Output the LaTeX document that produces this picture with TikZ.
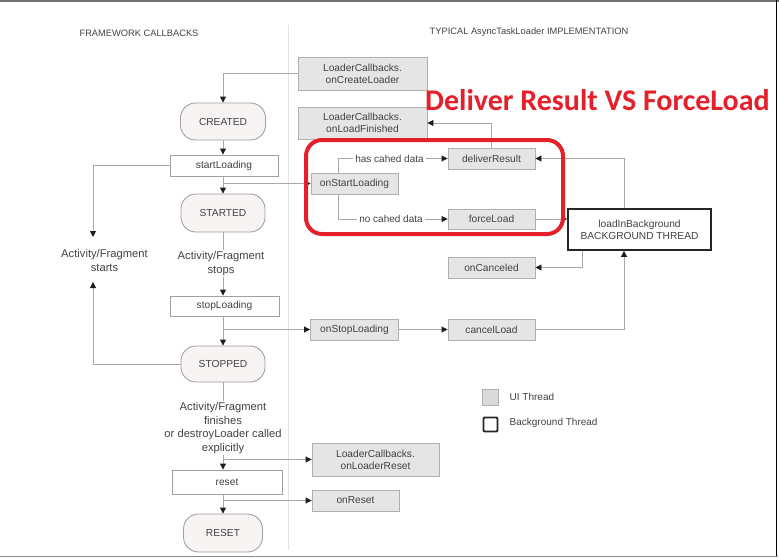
\documentclass[tikz,border=0pt]{standalone}
\usepackage{fontspec}
\setmainfont{Liberation Sans}
\newfontfamily\redfont{Carlito}
\usetikzlibrary{arrows.meta}
\definecolor{txt}{HTML}{424242}
\definecolor{lineclr}{HTML}{A8A8A8}
\definecolor{tipclr}{HTML}{1E1E1E}
\definecolor{uifill}{HTML}{E5E5E5}
\definecolor{uiline}{HTML}{B0B0B0}
\definecolor{fwline}{HTML}{A0A0A0}
\definecolor{statefill}{HTML}{F8F4F3}
\definecolor{divclr}{HTML}{E4E4E4}
\definecolor{redc}{HTML}{E5202B}
\definecolor{legfill}{HTML}{DADADA}
\definecolor{topclr}{HTML}{707070}
\definecolor{botclr}{HTML}{8A8A8A}
\tikzset{
 base/.style={font=\fontsize{10.2}{12}\selectfont, text=txt, align=center, inner sep=0pt, line width=0.9pt},
 uibox/.style={base, draw=uiline, fill=uifill},
 fwbox/.style={base, draw=fwline, fill=white},
 state/.style={base, draw=fwline, fill=statefill, rounded corners=15pt},
 bgbox/.style={base, draw=black!85, fill=white, line width=1.8pt},
 freetxt/.style={font=\fontsize{10}{13.3}\selectfont, text=txt, align=center, inner sep=1pt},
 bigtxt/.style={font=\fontsize{11.2}{13.4}\selectfont, text=txt, align=center, inner sep=1pt},
 conn/.style={draw=lineclr, line width=0.9pt},
 arr/.style={conn, -{Triangle[length=6pt,width=6pt,color=tipclr]}},
 hdr/.style={font=\fontsize{9.3}{11}\selectfont, text=txt, inner sep=0pt}
}
\begin{document}
\begin{tikzpicture}[x=1pt,y=-1pt]
\useasboundingbox (0,0) rectangle (779,557);
% outer frame
\coordinate (fTL) at (0,0.8);
\coordinate (fTR) at (779,0.8);
\coordinate (fRT) at (776.8,0);
\coordinate (fRB) at (776.8,556);
\coordinate (fBL) at (0,556.3);
\coordinate (fBR) at (777.5,556.3);
\draw[topclr, line width=1.6pt] (fTL) -- (fTR);
\draw[black, line width=1.3pt] (fRT) -- (fRB);
\draw[botclr, line width=1.3pt] (fBL) -- (fBR);
% headers and divider
\node[hdr] (hdrL) at (139,33) {FRAMEWORK CALLBACKS};
\node[hdr] (hdrR) at (529,32) {TYPICAL AsyncTaskLoader IMPLEMENTATION};
\coordinate (divT) at (288,25);
\coordinate (divB) at (288,550);
\draw[divclr, line width=0.9pt] (divT) -- (divB);
% left column
\node[state, minimum width=85pt, minimum height=37pt] (created) at (223,121.5) {CREATED};
\node[fwbox, minimum width=108pt, minimum height=21pt] (startL) at (224,165.5) {startLoading};
\node[state, minimum width=84pt, minimum height=38pt] (started) at (223,213) {STARTED};
\node[bigtxt] (stopsTxt) at (221,263.5) {Activity/Fragment\\stops};
\node[fwbox, minimum width=109pt, minimum height=20pt] (stopL) at (224.5,306) {stopLoading};
\node[state, minimum width=84pt, minimum height=36pt] (stopped) at (223,364) {STOPPED};
\node[bigtxt] (finTxt) at (223,428) {Activity/Fragment\\finishes\\or destroyLoader called\\explicitly};
\node[fwbox, minimum width=110pt, minimum height=24pt] (reset) at (227,482) {reset};
\node[state, minimum width=79pt, minimum height=38pt] (resetS) at (223,533) {RESET};
\node[bigtxt] (startsTxt) at (104.5,260.5) {Activity/Fragment\\starts};
\coordinate (startsTop) at (93,237);
\coordinate (startsBot) at (93,282);
% right column
\node[uibox, minimum width=129pt, minimum height=33pt] (onCreate) at (362.5,73.5) {LoaderCallbacks.\\onCreateLoader};
\node[uibox, minimum width=129pt, minimum height=32pt] (onLoadFin) at (362.5,123) {LoaderCallbacks.\\onLoadFinished};
\node[uibox, minimum width=87pt, minimum height=21pt] (onStart) at (354.5,183.5) {onStartLoading};
\node[uibox, minimum width=87pt, minimum height=21pt] (deliver) at (491.5,158.5) {deliverResult};
\node[uibox, minimum width=87pt, minimum height=20pt] (force) at (491.5,219) {forceLoad};
\node[bgbox, minimum width=143pt, minimum height=41pt] (loadBg) at (639.5,229.5) {loadInBackground\\BACKGROUND THREAD};
\node[uibox, minimum width=87pt, minimum height=21pt] (onCanceled) at (491.5,267.5) {onCanceled};
\node[uibox, minimum width=88pt, minimum height=21pt] (onStop) at (354.5,329.5) {onStopLoading};
\node[uibox, minimum width=87pt, minimum height=21pt] (cancel) at (491.5,329.5) {cancelLoad};
\node[uibox, minimum width=127pt, minimum height=33pt] (onLReset) at (375.5,459.5) {LoaderCallbacks.\\onLoaderReset};
\node[uibox, minimum width=87pt, minimum height=21pt] (onReset) at (355.5,500.5) {onReset};
\node[freetxt, fill=white, inner sep=2pt] (hasTxt) at (389.5,158.5) {has cahed data};
\node[freetxt, fill=white, inner sep=2pt] (noTxt) at (391,219) {no cahed data};
% legend
\node[draw=uiline, fill=legfill, line width=0.8pt, minimum size=16pt, inner sep=0pt] (legUI) at (490.5,397) {};
\node[draw=black!85, fill=white, line width=1.8pt, minimum size=14pt, inner sep=0pt, rounded corners=1pt] (legBG) at (490.5,424.5) {};
\node[freetxt, anchor=west] (legUItxt) at (508.5,397) {UI Thread};
\node[freetxt, anchor=west] (legBGtxt) at (508.5,423) {Background Thread};
% connectors, left
\draw[arr] (onCreate.west) -| (created.north);
\draw[arr] (created.south) -- (created.south |- startL.north);
\draw[arr] (started.north |- startL.south) -- (started.north);
\draw[arr] (started.north |- onStart.west) -- (onStart.west);
\draw[arr] (startL.west) -| (startsTop);
\draw[conn] (started.south) -- (started.south |- stopsTxt.north);
\draw[arr] (stopped.north |- stopsTxt.south) -- (stopped.north |- stopL.north);
\draw[arr] (stopped.north |- stopL.south) -- (stopped.north);
\draw[arr] (stopped.north |- onStop.west) -- (onStop.west);
\draw[arr] (stopped.west) -| (startsBot);
\draw[conn] (stopped.south) -- (stopped.south |- finTxt.north);
\draw[arr] (resetS.north |- finTxt.south) -- (resetS.north |- reset.north);
\draw[arr] (resetS.north |- onLReset.west) -- (onLReset.west);
\draw[arr] (resetS.north |- reset.south) -- (resetS.north);
\draw[arr] (resetS.north |- onReset.west) -- (onReset.west);
% connectors, right
\draw[conn] ([xshift=-16.5pt]onStart.north) |- (hasTxt.west);
\draw[arr] (hasTxt.east) -- (deliver.west);
\draw[conn] ([xshift=-16.5pt]onStart.south) |- (noTxt.west);
\draw[arr] (noTxt.east) -- (force.west);
\draw[arr] (deliver.north) |- (onLoadFin.east);
\draw[arr] (force.east) -- (force.east -| loadBg.west);
\draw[arr] ([xshift=-15.5pt]loadBg.north) |- (deliver.east);
\draw[arr] ([xshift=-57.5pt]loadBg.south) |- (onCanceled.east);
\draw[arr] (cancel.east) -| ([xshift=-15.5pt]loadBg.south);
\draw[arr] (onStop.east) -- (cancel.west);
% red annotation
\node[draw=redc, line width=4pt, rounded corners=16pt, minimum width=257pt, minimum height=94pt, inner sep=0pt] (frame) at (434.5,187) {};
\node[font=\redfont\bfseries\fontsize{30}{31}\selectfont, text=redc, anchor=base west, inner sep=0pt] (title) at (425,110) {Deliver Result VS ForceLoad};
\end{tikzpicture}
\end{document}
